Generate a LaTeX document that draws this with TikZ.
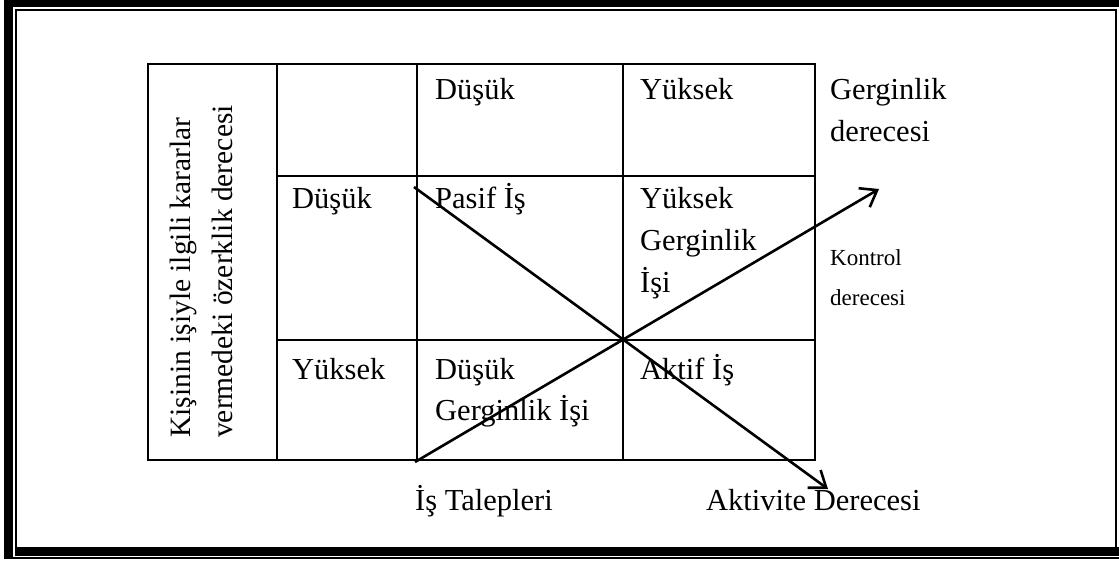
\documentclass[tikz,border=0pt]{standalone}
\usepackage{fontspec}
\setmainfont{Liberation Serif}
\usetikzlibrary{arrows.meta}
\begin{document}
\begin{tikzpicture}[x=1pt,y=-1pt,
  grid/.style={line width=2pt,line cap=rect},
  txt/.style={anchor=base west,inner sep=0pt,font=\fontsize{30.5}{42}\selectfont},
  small/.style={anchor=base west,inner sep=0pt,font=\fontsize{23}{30}\selectfont},
  arr/.style={line width=2.6pt,-{Straight Barb[length=15pt,width=22pt,line width=2.6pt]}}]
\useasboundingbox (0,0) rectangle (1119,560);
% page border
\fill[black] (4,0) rectangle (12.7,559);
\fill[black] (4,0) rectangle (1119,6.7);
\fill[black] (14.7,546.7) rectangle (1119,555.7);
\draw[line width=1.8pt] (15.6,546.7) -- (15.6,10) -- (1116,10) -- (1116,546.7);
\draw[line width=1.8pt] (12.7,558.2) -- (1119,558.2);
% table
\draw[grid] (148,64) rectangle (815,460);
\draw[grid] (277,64) -- (277,460);
\draw[grid] (417,64) -- (417,460);
\draw[grid] (623,64) -- (623,460);
\draw[grid] (277,176) -- (815,176);
\draw[grid] (277,340) -- (815,340);
% rotated label
\node[txt,rotate=90,font=\fontsize{29.5}{40}\selectfont] (l1) at (190,438) {Kişinin işiyle ilgili kararlar};
\node[txt,rotate=90,font=\fontsize{29.5}{40}\selectfont] (l2) at (232,438) {vermedeki özerklik derecesi};
% header
\node[txt] (h1) at (435,99) {Düşük};
\node[txt] (h2) at (640,99) {Yüksek};
\node[txt] (g1) at (830,99) {Gerginlik};
\node[txt] (g2) at (830,141) {derecesi};
% row 1
\node[txt] (r1) at (292,208) {Düşük};
\node[txt] (c11) at (435,208) {Pasif İş};
\node[txt] (c12) at (640,208) {Yüksek};
\node[txt] (c12b) at (640,250) {Gerginlik};
\node[txt] (c12c) at (640,292) {İşi};
\node[small] (k1) at (830,265) {Kontrol};
\node[small] (k2) at (830,305) {derecesi};
% row 2
\node[txt] (r2) at (292,379) {Yüksek};
\node[txt] (c21) at (435,379) {Düşük};
\node[txt] (c21b) at (435,420) {Gerginlik İşi};
\node[txt] (c22) at (640,379) {Aktif İş};
% axis labels
\node[txt] (ax1) at (415,510) {İş Talepleri};
\node[txt] (ax2) at (706,510) {Aktivite Derecesi};
% arrows
\coordinate (a1s) at (415,462);
\coordinate (a1e) at (879,189);
\coordinate (a2s) at (414,187);
\coordinate (a2e) at (828,489);
\draw[arr] (a1s) -- (a1e);
\draw[arr] (a2s) -- (a2e);
\end{tikzpicture}
\end{document}
